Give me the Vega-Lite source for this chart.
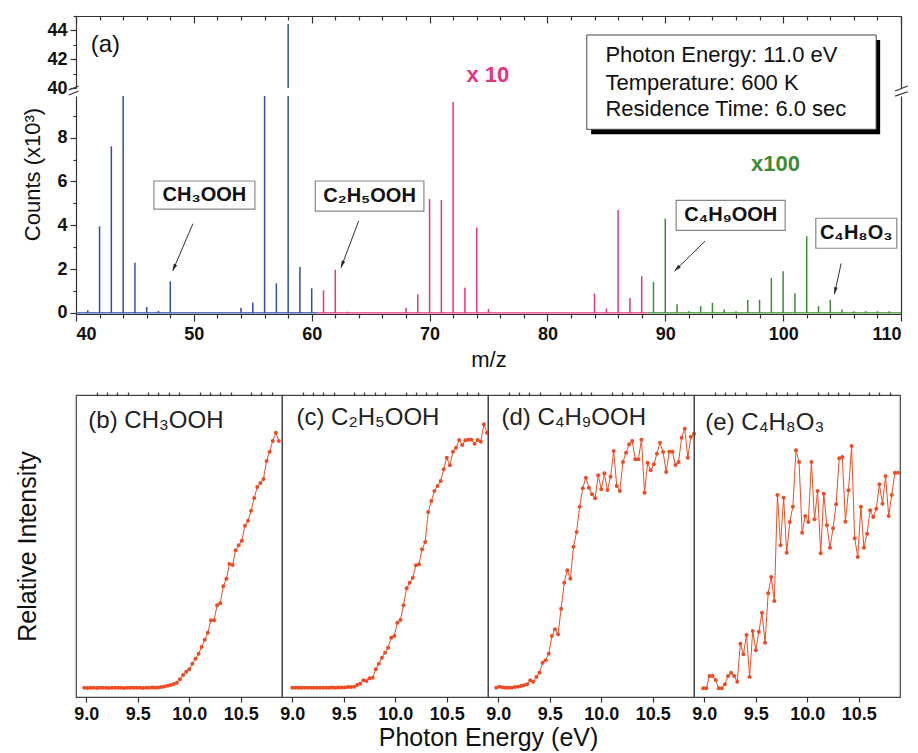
{
"$schema":"https://vega.github.io/schema/vega-lite/v6.json",
"background":"white",
"padding":{"left":14,"top":15,"right":5,"bottom":2},
"config":{
 "font":"Liberation Sans",
 "view":{"stroke":"#444","strokeWidth":1.2},
 "axis":{"grid":false,"labelFont":"Liberation Sans","labelFontWeight":"bold","labelFontSize":18,"labelColor":"#111","domainColor":"#333","domainWidth":1.2,"tickColor":"#333","tickWidth":1.2,"titleFont":"Liberation Sans","titleFontWeight":"normal","titleColor":"#111","titleFontSize":23}
},
"datasets":{
 "peaks":[
  {"mz":41,"counts":0.12,"gain":"x1"},{"mz":42,"counts":3.95,"gain":"x1"},{"mz":43,"counts":7.6,"gain":"x1"},{"mz":44,"counts":25,"gain":"x1"},{"mz":45,"counts":2.29,"gain":"x1"},{"mz":46,"counts":0.27,"gain":"x1"},{"mz":47,"counts":0.09,"gain":"x1"},{"mz":48,"counts":1.44,"gain":"x1"},{"mz":54,"counts":0.24,"gain":"x1"},{"mz":55,"counts":0.47,"gain":"x1"},{"mz":56,"counts":25,"gain":"x1"},{"mz":57,"counts":1.35,"gain":"x1"},{"mz":58,"counts":44.45,"gain":"x1"},{"mz":59,"counts":2.09,"gain":"x1"},{"mz":60,"counts":1.12,"gain":"x1"},
  {"mz":61,"counts":1.03,"gain":"x10"},{"mz":62,"counts":1.97,"gain":"x10"},{"mz":63,"counts":0.05,"gain":"x10"},{"mz":68,"counts":0.24,"gain":"x10"},{"mz":69,"counts":0.85,"gain":"x10"},{"mz":70,"counts":5.2,"gain":"x10"},{"mz":71,"counts":5.15,"gain":"x10"},{"mz":72,"counts":9.63,"gain":"x10"},{"mz":73,"counts":1.15,"gain":"x10"},{"mz":74,"counts":3.9,"gain":"x10"},{"mz":75,"counts":0.18,"gain":"x10"},{"mz":84,"counts":0.88,"gain":"x10"},{"mz":85,"counts":0.2,"gain":"x10"},{"mz":86,"counts":4.7,"gain":"x10"},{"mz":87,"counts":0.68,"gain":"x10"},{"mz":88,"counts":1.67,"gain":"x10"},
  {"mz":89,"counts":1.42,"gain":"x100"},{"mz":90,"counts":4.3,"gain":"x100"},{"mz":91,"counts":0.39,"gain":"x100"},{"mz":92,"counts":0.08,"gain":"x100"},{"mz":93,"counts":0.31,"gain":"x100"},{"mz":94,"counts":0.46,"gain":"x100"},{"mz":95,"counts":0.16,"gain":"x100"},{"mz":96,"counts":0.08,"gain":"x100"},{"mz":97,"counts":0.59,"gain":"x100"},{"mz":98,"counts":0.6,"gain":"x100"},{"mz":99,"counts":1.6,"gain":"x100"},{"mz":100,"counts":1.9,"gain":"x100"},{"mz":101,"counts":0.9,"gain":"x100"},{"mz":102,"counts":3.5,"gain":"x100"},{"mz":103,"counts":0.31,"gain":"x100"},{"mz":104,"counts":0.6,"gain":"x100"},{"mz":105,"counts":0.15,"gain":"x100"},{"mz":106,"counts":0.08,"gain":"x100"},{"mz":107,"counts":0.08,"gain":"x100"},{"mz":108,"counts":0.08,"gain":"x100"},{"mz":109,"counts":0.08,"gain":"x100"}
 ],
 "baselines":[{"gain":"x1","from":40,"to":60.45},{"gain":"x10","from":60.45,"to":88.5},{"gain":"x100","from":88.5,"to":110}],
 "infobox":[{"part":"shadow","x1":83.71,"x2":108.23,"y1":36.78,"y2":43.33},{"part":"box","x1":83.34,"x2":107.89,"y1":37.13,"y2":43.68}],
 "infotext":[{"line":"Photon Energy: 11.0 eV","mz":84.92,"y":42.27},{"line":"Temperature: 600 K","mz":84.92,"y":40.37},{"line":"Residence Time: 6.0 sec","mz":84.92,"y":38.52}],
 "upperlabels":[{"kind":"panel","text":"(a)","mz":41.25,"y":42.99},{"kind":"gain","text":"x 10","mz":74.94,"y":40.88}],
 "lowerlabels":[{"text":"x100","mz":99.35,"y":6.78}],
 "breaks":[{"x1":39.38,"x2":40.23,"y1":39.86,"y2":40.14},{"x1":39.38,"x2":40.23,"y1":39.51,"y2":39.79},{"x1":109.5,"x2":110.57,"y1":39.79,"y2":40.14},{"x1":109.5,"x2":110.57,"y1":39.44,"y2":39.74}],
 "boxes":[
  {"label":"CH₃OOH","x1":46.61,"x2":55.18,"y1":4.74,"y2":6.02,"cx":50.9,"cy":5.38},
  {"label":"C₂H₅OOH","x1":60.3,"x2":69.52,"y1":4.65,"y2":6.02,"cx":64.91,"cy":5.33},
  {"label":"C₄H₉OOH","x1":90.92,"x2":100.17,"y1":3.77,"y2":5.14,"cx":95.55,"cy":4.455},
  {"label":"C₄H₈O₃","x1":102.77,"x2":109.64,"y1":2.95,"y2":4.32,"cx":106.2,"cy":3.635}
 ],
 "arrows":[
  {"id":"a1","x":49.92,"y":4.07,"x2":48.2,"y2":1.91},
  {"id":"a2","x":63.98,"y":4.19,"x2":62.48,"y2":2.06},
  {"id":"a3","x":93.38,"y":3.28,"x2":90.78,"y2":1.91},
  {"id":"a4","x":104.92,"y":2.26,"x2":104.35,"y2":0.85}
 ],
 "panellabels":[
  {"p":"b","label":"(b) CH₃OOH","e":9.02,"v":276},
  {"p":"c","label":"(c) C₂H₅OOH","e":9.04,"v":279},
  {"p":"d","label":"(d) C₄H₉OOH","e":9.03,"v":279},
  {"p":"e","label":"(e) C₄H₈O₃","e":9.01,"v":274}
 ],
 "pie":[
  {"p":"b","e":8.98,"v":9.3},{"p":"b","e":9.01,"v":9.0},{"p":"b","e":9.04,"v":9.3},{"p":"b","e":9.07,"v":9.3},{"p":"b","e":9.10,"v":9.0},{"p":"b","e":9.13,"v":9.3},{"p":"b","e":9.16,"v":9.3},{"p":"b","e":9.19,"v":9.3},{"p":"b","e":9.22,"v":9.0},{"p":"b","e":9.25,"v":9.3},{"p":"b","e":9.28,"v":9.3},{"p":"b","e":9.31,"v":9.3},{"p":"b","e":9.34,"v":9.3},{"p":"b","e":9.37,"v":9.0},{"p":"b","e":9.40,"v":9.3},{"p":"b","e":9.43,"v":9.3},{"p":"b","e":9.46,"v":9.3},{"p":"b","e":9.49,"v":9.3},{"p":"b","e":9.52,"v":9.3},{"p":"b","e":9.55,"v":9.0},{"p":"b","e":9.58,"v":9.3},{"p":"b","e":9.61,"v":9.3},{"p":"b","e":9.64,"v":9.6},{"p":"b","e":9.67,"v":9.3},{"p":"b","e":9.70,"v":9.6},{"p":"b","e":9.73,"v":10},{"p":"b","e":9.76,"v":10.5},{"p":"b","e":9.79,"v":11.3},{"p":"b","e":9.82,"v":12},{"p":"b","e":9.85,"v":13},{"p":"b","e":9.88,"v":14.3},{"p":"b","e":9.91,"v":17.7},{"p":"b","e":9.94,"v":22},{"p":"b","e":9.97,"v":25.3},{"p":"b","e":10.00,"v":27.7},{"p":"b","e":10.03,"v":33.3},{"p":"b","e":10.06,"v":38.3},{"p":"b","e":10.09,"v":43.3},{"p":"b","e":10.12,"v":50},{"p":"b","e":10.15,"v":57.3},{"p":"b","e":10.18,"v":64.3},{"p":"b","e":10.21,"v":76.7},{"p":"b","e":10.24,"v":76.7},{"p":"b","e":10.27,"v":91.7},{"p":"b","e":10.30,"v":93.7},{"p":"b","e":10.33,"v":110.7},{"p":"b","e":10.36,"v":118.3},{"p":"b","e":10.39,"v":133},{"p":"b","e":10.42,"v":132},{"p":"b","e":10.45,"v":146.7},{"p":"b","e":10.48,"v":151.7},{"p":"b","e":10.51,"v":156.3},{"p":"b","e":10.54,"v":171.3},{"p":"b","e":10.57,"v":176.3},{"p":"b","e":10.60,"v":186.3},{"p":"b","e":10.63,"v":199},{"p":"b","e":10.66,"v":210},{"p":"b","e":10.69,"v":214},{"p":"b","e":10.72,"v":218},{"p":"b","e":10.75,"v":236},{"p":"b","e":10.78,"v":245.3},{"p":"b","e":10.81,"v":256},{"p":"b","e":10.84,"v":264.3},{"p":"b","e":10.87,"v":256},
  {"p":"c","e":9.00,"v":9.3},{"p":"c","e":9.03,"v":9.3},{"p":"c","e":9.06,"v":9.3},{"p":"c","e":9.09,"v":9.3},{"p":"c","e":9.12,"v":9.3},{"p":"c","e":9.15,"v":9.3},{"p":"c","e":9.18,"v":9.3},{"p":"c","e":9.21,"v":9.3},{"p":"c","e":9.24,"v":9.3},{"p":"c","e":9.27,"v":9.3},{"p":"c","e":9.30,"v":9.3},{"p":"c","e":9.33,"v":9.3},{"p":"c","e":9.36,"v":9.3},{"p":"c","e":9.39,"v":9.6},{"p":"c","e":9.42,"v":9.3},{"p":"c","e":9.45,"v":9.6},{"p":"c","e":9.48,"v":9.6},{"p":"c","e":9.51,"v":9.6},{"p":"c","e":9.54,"v":10},{"p":"c","e":9.57,"v":10},{"p":"c","e":9.60,"v":10.3},{"p":"c","e":9.63,"v":12},{"p":"c","e":9.66,"v":13.3},{"p":"c","e":9.69,"v":16.7},{"p":"c","e":9.72,"v":16},{"p":"c","e":9.75,"v":18.7},{"p":"c","e":9.78,"v":19.3},{"p":"c","e":9.81,"v":27.7},{"p":"c","e":9.84,"v":33.3},{"p":"c","e":9.87,"v":39.3},{"p":"c","e":9.90,"v":44.3},{"p":"c","e":9.93,"v":49.3},{"p":"c","e":9.96,"v":59.3},{"p":"c","e":9.99,"v":61},{"p":"c","e":10.02,"v":74.3},{"p":"c","e":10.05,"v":77},{"p":"c","e":10.08,"v":91.7},{"p":"c","e":10.11,"v":108.7},{"p":"c","e":10.14,"v":114.3},{"p":"c","e":10.17,"v":119.3},{"p":"c","e":10.20,"v":131.7},{"p":"c","e":10.23,"v":132.7},{"p":"c","e":10.26,"v":147.7},{"p":"c","e":10.29,"v":155},{"p":"c","e":10.32,"v":185},{"p":"c","e":10.35,"v":196},{"p":"c","e":10.38,"v":206},{"p":"c","e":10.41,"v":211},{"p":"c","e":10.44,"v":216},{"p":"c","e":10.47,"v":227.7},{"p":"c","e":10.50,"v":239.3},{"p":"c","e":10.53,"v":231.7},{"p":"c","e":10.56,"v":245.3},{"p":"c","e":10.59,"v":249.3},{"p":"c","e":10.62,"v":257},{"p":"c","e":10.65,"v":252},{"p":"c","e":10.68,"v":256.7},{"p":"c","e":10.71,"v":257.3},{"p":"c","e":10.74,"v":257.3},{"p":"c","e":10.77,"v":253.3},{"p":"c","e":10.80,"v":257},{"p":"c","e":10.83,"v":255.3},{"p":"c","e":10.86,"v":272.7},{"p":"c","e":10.89,"v":264.3},
  {"p":"d","e":8.98,"v":9.3},{"p":"d","e":9.01,"v":10.3},{"p":"d","e":9.04,"v":9.7},{"p":"d","e":9.07,"v":9.3},{"p":"d","e":9.10,"v":9.3},{"p":"d","e":9.13,"v":9.3},{"p":"d","e":9.16,"v":10},{"p":"d","e":9.19,"v":10.3},{"p":"d","e":9.22,"v":11},{"p":"d","e":9.25,"v":11.7},{"p":"d","e":9.28,"v":12.7},{"p":"d","e":9.31,"v":16.7},{"p":"d","e":9.34,"v":15.3},{"p":"d","e":9.37,"v":20},{"p":"d","e":9.40,"v":24.3},{"p":"d","e":9.43,"v":34.3},{"p":"d","e":9.46,"v":36.7},{"p":"d","e":9.49,"v":43.3},{"p":"d","e":9.52,"v":61},{"p":"d","e":9.55,"v":67.7},{"p":"d","e":9.58,"v":62.7},{"p":"d","e":9.61,"v":88.3},{"p":"d","e":9.64,"v":114.3},{"p":"d","e":9.67,"v":126.7},{"p":"d","e":9.70,"v":118.3},{"p":"d","e":9.73,"v":150.3},{"p":"d","e":9.76,"v":165},{"p":"d","e":9.79,"v":190.3},{"p":"d","e":9.82,"v":208.7},{"p":"d","e":9.85,"v":219.3},{"p":"d","e":9.88,"v":209.3},{"p":"d","e":9.91,"v":202.7},{"p":"d","e":9.94,"v":198.7},{"p":"d","e":9.97,"v":221.7},{"p":"d","e":10.00,"v":207.7},{"p":"d","e":10.03,"v":223.7},{"p":"d","e":10.06,"v":207},{"p":"d","e":10.09,"v":220.3},{"p":"d","e":10.12,"v":246},{"p":"d","e":10.15,"v":211},{"p":"d","e":10.18,"v":206},{"p":"d","e":10.21,"v":235},{"p":"d","e":10.24,"v":244.3},{"p":"d","e":10.27,"v":252.7},{"p":"d","e":10.30,"v":256},{"p":"d","e":10.33,"v":237.7},{"p":"d","e":10.36,"v":237.7},{"p":"d","e":10.39,"v":257.3},{"p":"d","e":10.42,"v":204.3},{"p":"d","e":10.45,"v":234.3},{"p":"d","e":10.48,"v":226.7},{"p":"d","e":10.51,"v":232.7},{"p":"d","e":10.54,"v":243.3},{"p":"d","e":10.57,"v":254.3},{"p":"d","e":10.60,"v":245},{"p":"d","e":10.63,"v":225},{"p":"d","e":10.66,"v":245.3},{"p":"d","e":10.69,"v":245.3},{"p":"d","e":10.72,"v":232},{"p":"d","e":10.75,"v":235},{"p":"d","e":10.78,"v":259.3},{"p":"d","e":10.81,"v":268.3},{"p":"d","e":10.84,"v":239.3},{"p":"d","e":10.87,"v":260.3},{"p":"d","e":10.90,"v":263.3},
  {"p":"e","e":8.99,"v":8.7},{"p":"e","e":9.02,"v":8.7},{"p":"e","e":9.05,"v":21},{"p":"e","e":9.08,"v":21},{"p":"e","e":9.11,"v":17},{"p":"e","e":9.14,"v":8.7},{"p":"e","e":9.17,"v":8.7},{"p":"e","e":9.20,"v":12.7},{"p":"e","e":9.23,"v":21},{"p":"e","e":9.26,"v":24.3},{"p":"e","e":9.29,"v":21},{"p":"e","e":9.32,"v":15.3},{"p":"e","e":9.35,"v":53.3},{"p":"e","e":9.38,"v":42.7},{"p":"e","e":9.41,"v":62},{"p":"e","e":9.44,"v":20},{"p":"e","e":9.47,"v":66},{"p":"e","e":9.50,"v":46.7},{"p":"e","e":9.53,"v":65.3},{"p":"e","e":9.56,"v":84.3},{"p":"e","e":9.59,"v":54.3},{"p":"e","e":9.62,"v":103.7},{"p":"e","e":9.65,"v":120},{"p":"e","e":9.68,"v":96},{"p":"e","e":9.71,"v":202},{"p":"e","e":9.74,"v":151.7},{"p":"e","e":9.77,"v":199.3},{"p":"e","e":9.80,"v":144.3},{"p":"e","e":9.83,"v":175},{"p":"e","e":9.86,"v":190.3},{"p":"e","e":9.89,"v":246.7},{"p":"e","e":9.92,"v":235},{"p":"e","e":9.95,"v":164.3},{"p":"e","e":9.98,"v":181},{"p":"e","e":10.01,"v":175},{"p":"e","e":10.04,"v":235},{"p":"e","e":10.07,"v":177.7},{"p":"e","e":10.10,"v":206},{"p":"e","e":10.13,"v":143.7},{"p":"e","e":10.16,"v":203.3},{"p":"e","e":10.19,"v":171.7},{"p":"e","e":10.22,"v":149.3},{"p":"e","e":10.25,"v":168.7},{"p":"e","e":10.28,"v":192.7},{"p":"e","e":10.31,"v":238.7},{"p":"e","e":10.34,"v":240},{"p":"e","e":10.37,"v":175.3},{"p":"e","e":10.40,"v":206.7},{"p":"e","e":10.43,"v":251},{"p":"e","e":10.46,"v":158.7},{"p":"e","e":10.49,"v":140},{"p":"e","e":10.52,"v":190.3},{"p":"e","e":10.55,"v":149.3},{"p":"e","e":10.58,"v":163.3},{"p":"e","e":10.61,"v":186.7},{"p":"e","e":10.64,"v":180},{"p":"e","e":10.67,"v":188.3},{"p":"e","e":10.70,"v":212.7},{"p":"e","e":10.73,"v":193.3},{"p":"e","e":10.76,"v":221},{"p":"e","e":10.79,"v":181},{"p":"e","e":10.82,"v":202},{"p":"e","e":10.85,"v":224.3},{"p":"e","e":10.88,"v":224.3}
 ]
},
"spacing":20,
"vconcat":[
 {"spacing":8,"bounds":"flush","vconcat":[
  {"width":825,"height":72,"view":{"stroke":null},
   "resolve":{"axis":{"x":"independent","y":"independent"}},
   "layer":[
    {"data":{"name":"peaks"},"mark":{"type":"rule","clip":true,"strokeWidth":1.5},
     "encoding":{
      "x":{"field":"mz","type":"quantitative","scale":{"domain":[40,110],"nice":false,"zero":false},"axis":{"orient":"top","values":[40,50,60,70,80,90,100,110],"labels":false,"tickSize":-7,"title":null}},
      "y":{"field":"counts","type":"quantitative","scale":{"domain":[40,45],"nice":false,"zero":false},"axis":{"orient":"left","values":[40,42,44],"tickSize":6,"labelPadding":3,"title":null}},
      "y2":{"datum":0},
      "color":{"field":"gain","type":"nominal","scale":{"domain":["x1","x10","x100"],"range":["#2f4fa6","#e6337f","#3f8b35"]},"legend":null}}},
    {"data":{"name":"infobox"},"transform":[{"filter":"datum.part == 'shadow'"}],"mark":{"type":"rect","fill":"#000"},
     "encoding":{
      "x":{"field":"x1","type":"quantitative","scale":{"domain":[40,110],"nice":false,"zero":false},"axis":{"orient":"top","values":[42,44,46,48,52,54,56,58,62,64,66,68,72,74,76,78,82,84,86,88,92,94,96,98,102,104,106,108],"labels":false,"domain":false,"tickSize":-4,"title":null}},
      "x2":{"field":"x2"},
      "y":{"field":"y1","type":"quantitative","scale":{"domain":[40,45],"nice":false,"zero":false},"axis":{"orient":"left","values":[41,43,45],"labels":false,"domain":false,"tickSize":3,"title":null}},
      "y2":{"field":"y2"}}},
    {"data":{"name":"infobox"},"transform":[{"filter":"datum.part == 'box'"}],"mark":{"type":"rect","fill":"white","stroke":"#444","strokeWidth":1},
     "encoding":{
      "x":{"field":"x1","type":"quantitative","scale":{"domain":[40,110],"nice":false,"zero":false},"axis":null},
      "x2":{"field":"x2"},
      "y":{"field":"y1","type":"quantitative","scale":{"domain":[40,45],"nice":false,"zero":false},"axis":{"orient":"right","labels":false,"ticks":false,"title":null}},
      "y2":{"field":"y2"}}},
    {"data":{"name":"infotext"},"mark":{"type":"text","align":"left","baseline":"middle","fontSize":22,"color":"#111"},
     "encoding":{
      "x":{"field":"mz","type":"quantitative","scale":{"domain":[40,110],"nice":false,"zero":false},"axis":null},
      "y":{"field":"y","type":"quantitative","scale":{"domain":[40,45],"nice":false,"zero":false},"axis":null},
      "text":{"field":"line"}}},
    {"data":{"name":"upperlabels"},"transform":[{"filter":"datum.kind == 'panel'"}],"mark":{"type":"text","align":"left","baseline":"middle","fontSize":24,"color":"#111"},
     "encoding":{
      "x":{"field":"mz","type":"quantitative","scale":{"domain":[40,110],"nice":false,"zero":false},"axis":null},
      "y":{"field":"y","type":"quantitative","scale":{"domain":[40,45],"nice":false,"zero":false},"axis":null},
      "text":{"field":"text"}}},
    {"data":{"name":"upperlabels"},"transform":[{"filter":"datum.kind == 'gain'"}],"mark":{"type":"text","align":"center","baseline":"middle","fontSize":22,"fontWeight":"bold","color":"#e6337f"},
     "encoding":{
      "x":{"field":"mz","type":"quantitative","scale":{"domain":[40,110],"nice":false,"zero":false},"axis":null},
      "y":{"field":"y","type":"quantitative","scale":{"domain":[40,45],"nice":false,"zero":false},"axis":null},
      "text":{"field":"text"}}},
    {"data":{"name":"breaks"},"mark":{"type":"rule","color":"#333","strokeWidth":1.2},
     "encoding":{
      "x":{"field":"x1","type":"quantitative","scale":{"domain":[40,110],"nice":false,"zero":false},"axis":null},
      "x2":{"field":"x2"},
      "y":{"field":"y1","type":"quantitative","scale":{"domain":[40,45],"nice":false,"zero":false},"axis":null},
      "y2":{"field":"y2"}}}
   ]},
  {"width":825,"height":218,"view":{"stroke":null},
   "resolve":{"axis":{"x":"independent","y":"independent"}},
   "layer":[
    {"data":{"name":"peaks"},"mark":{"type":"rule","clip":true,"strokeWidth":1.5},
     "encoding":{
      "x":{"field":"mz","type":"quantitative","scale":{"domain":[40,110],"nice":false,"zero":false},"axis":{"orient":"bottom","values":[40,50,60,70,80,90,100,110],"tickSize":7,"labelPadding":4,"title":"m/z","titlePadding":6,"titleFontSize":22}},
      "y":{"field":"counts","type":"quantitative","scale":{"domain":[-0.05,9.9],"nice":false,"zero":false},"axis":{"orient":"left","values":[0,2,4,6,8],"tickSize":6,"labelPadding":3,"title":"Counts (x10³)","titleY":78,"titlePadding":12,"titleFontSize":22}},
      "y2":{"datum":0},
      "color":{"field":"gain","type":"nominal","scale":{"domain":["x1","x10","x100"],"range":["#2f4fa6","#e6337f","#3f8b35"]},"legend":null}}},
    {"data":{"name":"baselines"},"mark":{"type":"rule","strokeWidth":1.2},
     "encoding":{
      "x":{"field":"from","type":"quantitative","scale":{"domain":[40,110],"nice":false,"zero":false},"axis":null},
      "x2":{"field":"to"},
      "y":{"datum":0,"scale":{"domain":[-0.05,9.9],"nice":false,"zero":false},"axis":null},
      "color":{"field":"gain","type":"nominal","scale":{"domain":["x1","x10","x100"],"range":["#2f4fa6","#e6337f","#3f8b35"]},"legend":null}}},
    {"data":{"name":"boxes"},"mark":{"type":"rect","fill":"white","stroke":"#888","strokeWidth":1.2},
     "encoding":{
      "x":{"field":"x1","type":"quantitative","scale":{"domain":[40,110],"nice":false,"zero":false},"axis":{"orient":"bottom","values":[42,44,46,48,52,54,56,58,62,64,66,68,72,74,76,78,82,84,86,88,92,94,96,98,102,104,106,108],"labels":false,"domain":false,"tickSize":4,"title":null}},
      "x2":{"field":"x2"},
      "y":{"field":"y1","type":"quantitative","scale":{"domain":[-0.05,9.9],"nice":false,"zero":false},"axis":{"orient":"left","values":[1,3,5,7,9],"labels":false,"domain":false,"tickSize":3,"title":null}},
      "y2":{"field":"y2"}}},
    {"data":{"name":"boxes"},"mark":{"type":"text","align":"center","baseline":"middle","fontSize":20,"fontWeight":"bold","color":"#111"},
     "encoding":{
      "x":{"field":"cx","type":"quantitative","scale":{"domain":[40,110],"nice":false,"zero":false},"axis":null},
      "y":{"field":"cy","type":"quantitative","scale":{"domain":[-0.05,9.9],"nice":false,"zero":false},"axis":{"orient":"right","labels":false,"ticks":false,"title":null}},
      "text":{"field":"label"}}},
    {"data":{"name":"arrows"},"mark":{"type":"rule","color":"#333","strokeWidth":1},
     "encoding":{
      "x":{"field":"x","type":"quantitative","scale":{"domain":[40,110],"nice":false,"zero":false},"axis":null},
      "x2":{"field":"x2"},
      "y":{"field":"y","type":"quantitative","scale":{"domain":[-0.05,9.9],"nice":false,"zero":false},"axis":null},
      "y2":{"field":"y2"}}},
    {"data":{"name":"arrows"},"transform":[{"filter":"datum.id == 'a1'"}],"mark":{"type":"point","shape":"M0,0L0.38,1.5L-0.38,1.5Z","filled":true,"color":"#222","opacity":1,"size":90,"angle":203},
     "encoding":{
      "x":{"field":"x2","type":"quantitative","scale":{"domain":[40,110],"nice":false,"zero":false},"axis":null},
      "y":{"field":"y2","type":"quantitative","scale":{"domain":[-0.05,9.9],"nice":false,"zero":false},"axis":null}}},
    {"data":{"name":"arrows"},"transform":[{"filter":"datum.id == 'a2'"}],"mark":{"type":"point","shape":"M0,0L0.38,1.5L-0.38,1.5Z","filled":true,"color":"#222","opacity":1,"size":90,"angle":201},
     "encoding":{
      "x":{"field":"x2","type":"quantitative","scale":{"domain":[40,110],"nice":false,"zero":false},"axis":null},
      "y":{"field":"y2","type":"quantitative","scale":{"domain":[-0.05,9.9],"nice":false,"zero":false},"axis":null}}},
    {"data":{"name":"arrows"},"transform":[{"filter":"datum.id == 'a3'"}],"mark":{"type":"point","shape":"M0,0L0.38,1.5L-0.38,1.5Z","filled":true,"color":"#222","opacity":1,"size":90,"angle":226},
     "encoding":{
      "x":{"field":"x2","type":"quantitative","scale":{"domain":[40,110],"nice":false,"zero":false},"axis":null},
      "y":{"field":"y2","type":"quantitative","scale":{"domain":[-0.05,9.9],"nice":false,"zero":false},"axis":null}}},
    {"data":{"name":"arrows"},"transform":[{"filter":"datum.id == 'a4'"}],"mark":{"type":"point","shape":"M0,0L0.38,1.5L-0.38,1.5Z","filled":true,"color":"#222","opacity":1,"size":90,"angle":192},
     "encoding":{
      "x":{"field":"x2","type":"quantitative","scale":{"domain":[40,110],"nice":false,"zero":false},"axis":null},
      "y":{"field":"y2","type":"quantitative","scale":{"domain":[-0.05,9.9],"nice":false,"zero":false},"axis":null}}},
    {"data":{"name":"lowerlabels"},"mark":{"type":"text","align":"center","baseline":"middle","fontSize":22,"fontWeight":"bold","color":"#3f8b35"},
     "encoding":{
      "x":{"field":"mz","type":"quantitative","scale":{"domain":[40,110],"nice":false,"zero":false},"axis":null},
      "y":{"field":"y","type":"quantitative","scale":{"domain":[-0.05,9.9],"nice":false,"zero":false},"axis":null},
      "text":{"field":"text"}}}
   ]}
 ]},
 {"spacing":0,"bounds":"flush","hconcat":[
  {"width":206,"height":302,"resolve":{"axis":{"x":"independent","y":"independent"}},
   "layer":[
    {"data":{"name":"pie"},"transform":[{"filter":"datum.p == 'b'"}],"mark":{"type":"line","color":"#ef4c23","strokeWidth":1},
     "encoding":{
      "x":{"field":"e","type":"quantitative","scale":{"domain":[8.9,10.9],"nice":false,"zero":false},"axis":{"values":[9,9.5,10,10.5],"format":".1f","tickSize":5,"labelPadding":3,"domain":false,"title":null}},
      "y":{"field":"v","type":"quantitative","scale":{"domain":[0,302],"nice":false,"zero":false},"axis":{"title":"Relative Intensity","labels":false,"ticks":false,"domain":false,"titlePadding":36,"titleFontSize":25}}}},
    {"data":{"name":"pie"},"transform":[{"filter":"datum.p == 'b'"}],"mark":{"type":"circle","color":"#ef4c23","size":16,"opacity":1},
     "encoding":{
      "x":{"field":"e","type":"quantitative","scale":{"domain":[8.9,10.9],"nice":false,"zero":false},"axis":{"values":[9.1,9.2,9.3,9.4,9.6,9.7,9.8,9.9,10.1,10.2,10.3,10.4,10.6,10.7,10.8],"labels":false,"tickSize":3,"domain":false,"title":null}},
      "y":{"field":"v","type":"quantitative","scale":{"domain":[0,302],"nice":false,"zero":false},"axis":null}}},
    {"data":{"name":"panellabels"},"transform":[{"filter":"datum.p == 'b'"}],"mark":{"type":"text","align":"left","baseline":"middle","fontSize":24,"color":"#222"},
     "encoding":{
      "x":{"field":"e","type":"quantitative","scale":{"domain":[8.9,10.9],"nice":false,"zero":false},"axis":null},
      "y":{"field":"v","type":"quantitative","scale":{"domain":[0,302],"nice":false,"zero":false},"axis":null},
      "text":{"field":"label"}}}
   ]},
  {"width":206,"height":302,"resolve":{"axis":{"x":"independent","y":"independent"}},
   "layer":[
    {"data":{"name":"pie"},"transform":[{"filter":"datum.p == 'c'"}],"mark":{"type":"line","color":"#ef4c23","strokeWidth":1},
     "encoding":{
      "x":{"field":"e","type":"quantitative","scale":{"domain":[8.9,10.9],"nice":false,"zero":false},"axis":{"values":[9,9.5,10,10.5],"format":".1f","tickSize":5,"labelPadding":3,"domain":false,"title":"Photon Energy (eV)","titleX":206,"titlePadding":2,"titleFontSize":25}},
      "y":{"field":"v","type":"quantitative","scale":{"domain":[0,302],"nice":false,"zero":false},"axis":null}}},
    {"data":{"name":"pie"},"transform":[{"filter":"datum.p == 'c'"}],"mark":{"type":"circle","color":"#ef4c23","size":16,"opacity":1},
     "encoding":{
      "x":{"field":"e","type":"quantitative","scale":{"domain":[8.9,10.9],"nice":false,"zero":false},"axis":{"values":[9.1,9.2,9.3,9.4,9.6,9.7,9.8,9.9,10.1,10.2,10.3,10.4,10.6,10.7,10.8],"labels":false,"tickSize":3,"domain":false,"title":null}},
      "y":{"field":"v","type":"quantitative","scale":{"domain":[0,302],"nice":false,"zero":false},"axis":null}}},
    {"data":{"name":"panellabels"},"transform":[{"filter":"datum.p == 'c'"}],"mark":{"type":"text","align":"left","baseline":"middle","fontSize":24,"color":"#222"},
     "encoding":{
      "x":{"field":"e","type":"quantitative","scale":{"domain":[8.9,10.9],"nice":false,"zero":false},"axis":null},
      "y":{"field":"v","type":"quantitative","scale":{"domain":[0,302],"nice":false,"zero":false},"axis":null},
      "text":{"field":"label"}}}
   ]},
  {"width":206,"height":302,"resolve":{"axis":{"x":"independent","y":"independent"}},
   "layer":[
    {"data":{"name":"pie"},"transform":[{"filter":"datum.p == 'd'"}],"mark":{"type":"line","color":"#ef4c23","strokeWidth":1},
     "encoding":{
      "x":{"field":"e","type":"quantitative","scale":{"domain":[8.9,10.9],"nice":false,"zero":false},"axis":{"values":[9,9.5,10,10.5],"format":".1f","tickSize":5,"labelPadding":3,"domain":false,"title":null}},
      "y":{"field":"v","type":"quantitative","scale":{"domain":[0,302],"nice":false,"zero":false},"axis":null}}},
    {"data":{"name":"pie"},"transform":[{"filter":"datum.p == 'd'"}],"mark":{"type":"circle","color":"#ef4c23","size":16,"opacity":1},
     "encoding":{
      "x":{"field":"e","type":"quantitative","scale":{"domain":[8.9,10.9],"nice":false,"zero":false},"axis":{"values":[9.1,9.2,9.3,9.4,9.6,9.7,9.8,9.9,10.1,10.2,10.3,10.4,10.6,10.7,10.8],"labels":false,"tickSize":3,"domain":false,"title":null}},
      "y":{"field":"v","type":"quantitative","scale":{"domain":[0,302],"nice":false,"zero":false},"axis":null}}},
    {"data":{"name":"panellabels"},"transform":[{"filter":"datum.p == 'd'"}],"mark":{"type":"text","align":"left","baseline":"middle","fontSize":24,"color":"#222"},
     "encoding":{
      "x":{"field":"e","type":"quantitative","scale":{"domain":[8.9,10.9],"nice":false,"zero":false},"axis":null},
      "y":{"field":"v","type":"quantitative","scale":{"domain":[0,302],"nice":false,"zero":false},"axis":null},
      "text":{"field":"label"}}}
   ]},
  {"width":206,"height":302,"resolve":{"axis":{"x":"independent","y":"independent"}},
   "layer":[
    {"data":{"name":"pie"},"transform":[{"filter":"datum.p == 'e'"}],"mark":{"type":"line","color":"#ef4c23","strokeWidth":1},
     "encoding":{
      "x":{"field":"e","type":"quantitative","scale":{"domain":[8.9,10.9],"nice":false,"zero":false},"axis":{"values":[9,9.5,10,10.5],"format":".1f","tickSize":5,"labelPadding":3,"domain":false,"title":null}},
      "y":{"field":"v","type":"quantitative","scale":{"domain":[0,302],"nice":false,"zero":false},"axis":null}}},
    {"data":{"name":"pie"},"transform":[{"filter":"datum.p == 'e'"}],"mark":{"type":"circle","color":"#ef4c23","size":16,"opacity":1},
     "encoding":{
      "x":{"field":"e","type":"quantitative","scale":{"domain":[8.9,10.9],"nice":false,"zero":false},"axis":{"values":[9.1,9.2,9.3,9.4,9.6,9.7,9.8,9.9,10.1,10.2,10.3,10.4,10.6,10.7,10.8],"labels":false,"tickSize":3,"domain":false,"title":null}},
      "y":{"field":"v","type":"quantitative","scale":{"domain":[0,302],"nice":false,"zero":false},"axis":null}}},
    {"data":{"name":"panellabels"},"transform":[{"filter":"datum.p == 'e'"}],"mark":{"type":"text","align":"left","baseline":"middle","fontSize":24,"color":"#222"},
     "encoding":{
      "x":{"field":"e","type":"quantitative","scale":{"domain":[8.9,10.9],"nice":false,"zero":false},"axis":null},
      "y":{"field":"v","type":"quantitative","scale":{"domain":[0,302],"nice":false,"zero":false},"axis":null},
      "text":{"field":"label"}}}
   ]}
 ]}
]
}
